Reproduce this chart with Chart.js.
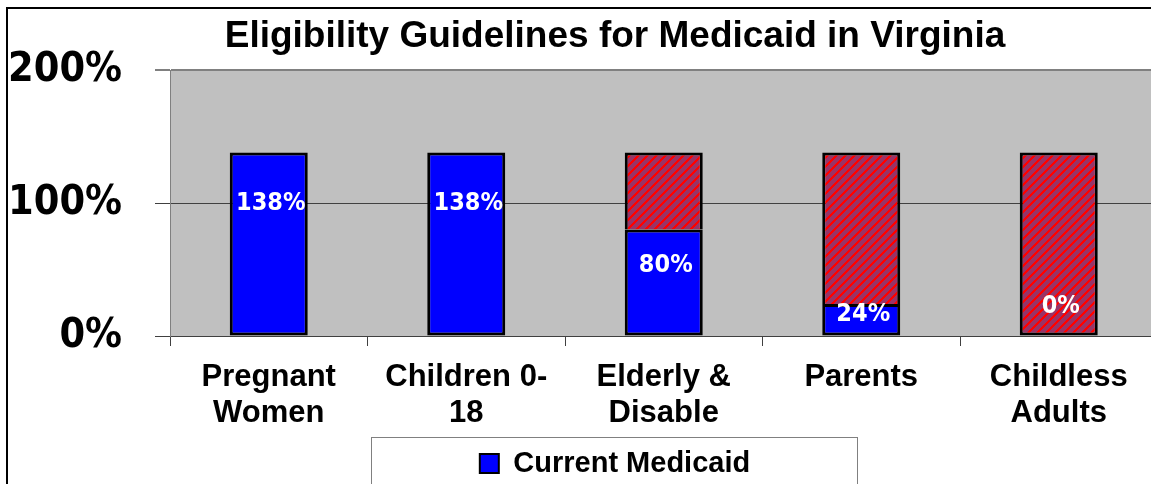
<!DOCTYPE html>
<html>
<head>
<meta charset="utf-8">
<script src="https://cdn.jsdelivr.net/npm/chart.js@4/dist/chart.umd.min.js"></script>
<style>
html, body { margin: 0; padding: 0; overflow: hidden; background: #fff; }
#wrap { position: relative; width: 1230px; height: 484px; }
</style>
</head>
<body>
<div id="wrap"><canvas id="myChart"></canvas></div>
<script>
// chart data
var categories = [['Pregnant', 'Women'], ['Children 0-', '18'], ['Elderly &', 'Disable'], ['Parents'], ['Childless', 'Adults']];
var currentMedicaid = [138, 138, 80, 24, 0];
var expansionGap = [0, 0, 58, 114, 138];
var yTicks = [0, 100, 200];
// where the white value labels sit (in axis units)
var labelAnchor = [100, 100, 53, 16, 22];

var condFont = '"DejaVu Sans Condensed", "DejaVu Sans", sans-serif';
var arialFont = '"Liberation Sans", Arial, sans-serif';

function makeHatch() {
  var c = document.createElement('canvas');
  c.width = 9; c.height = 9;
  var g = c.getContext('2d');
  g.fillStyle = '#993366';
  g.fillRect(0, 0, 9, 9);
  g.fillStyle = '#ff0000';
  for (var y = 0; y < 9; y++) {
    for (var x = 0; x < 9; x++) {
      if ((x + y) % 9 < 3) g.fillRect(x, y, 1, 1);
    }
  }
  return g.createPattern(c, 'repeat');
}

var bgPlugin = {
  id: 'bg',
  beforeDraw: function (chart) {
    var ctx = chart.ctx, a = chart.chartArea;
    ctx.save();
    ctx.fillStyle = '#fff';
    ctx.fillRect(0, 0, chart.width, chart.height);
    ctx.fillStyle = '#c0c0c0';
    ctx.fillRect(a.left, a.top, a.right - a.left, a.bottom - a.top);
    // outer frame
    ctx.strokeStyle = '#000';
    ctx.lineWidth = 2;
    ctx.beginPath();
    ctx.moveTo(7, chart.height + 5);
    ctx.lineTo(7, 8);
    ctx.lineTo(chart.width + 5, 8);
    ctx.stroke();
    ctx.restore();
  },
  afterDatasetsDraw: function (chart) {
    var ctx = chart.ctx, xs = chart.scales.x, ys = chart.scales.y;
    ctx.save();
    ctx.font = 'bold 25px ' + condFont;
    ctx.fillStyle = '#fff';
    ctx.textAlign = 'center';
    ctx.textBaseline = 'middle';
    currentMedicaid.forEach(function (v, i) {
      ctx.fillText(v + '%', xs.getPixelForValue(i) + 2, ys.getPixelForValue(labelAnchor[i]));
    });
    ctx.restore();
  },
  afterDraw: function (chart) {
    var ctx = chart.ctx;
    var cx = chart.width / 2;
    ctx.save();
    ctx.strokeStyle = '#808080';
    ctx.lineWidth = 1;
    ctx.strokeRect(cx - 243.5, 437.5, 486, 60);
    ctx.restore();
  }
};

var ctx = document.getElementById('myChart');
var hatch = makeHatch();

var myChart = new Chart(ctx, {
  type: 'bar',
  data: {
    labels: categories,
    datasets: [{
      label: 'Current Medicaid',
      data: currentMedicaid.map(function (v) { return v || null; }),
      backgroundColor: '#0000ff',
      borderColor: '#000',
      borderWidth: 3,
      borderSkipped: false,
      barPercentage: 0.395,
      categoryPercentage: 1
    }, {
      label: 'Expansion',
      data: expansionGap.map(function (v) { return v || null; }),
      backgroundColor: hatch,
      borderColor: '#000',
      borderWidth: function (c) {
        return { top: 3, left: 3, right: 3, bottom: currentMedicaid[c.dataIndex] > 0 ? 0 : 3 };
      },
      borderSkipped: false,
      barPercentage: 0.395,
      categoryPercentage: 1
    }]
  },
  options: {
    responsive: true,
    maintainAspectRatio: false,
    animation: false,
    layout: { padding: { top: 0, left: 0, right: 0, bottom: -4 } },
    plugins: {
      tooltip: { enabled: false },
      title: {
        display: true,
        text: 'Eligibility Guidelines for Medicaid in Virginia',
        color: '#000',
        font: { family: arialFont, size: 37, weight: 'bold', lineHeight: 1.2 },
        padding: { top: 15, bottom: 10.6 }
      },
      legend: {
        position: 'bottom',
        labels: {
          color: '#000',
          font: { family: arialFont, size: 29, weight: 'bold' },
          boxWidth: 19,
          boxHeight: 19,
          padding: 3,
          generateLabels: function (chart) {
            return Chart.defaults.plugins.legend.labels.generateLabels(chart)
              .filter(function (it) { return it.datasetIndex === 0; })
              .map(function (it) { it.lineWidth = 2; return it; });
          }
        }
      }
    },
    scales: {
      x: {
        stacked: true,
        grid: { display: true, drawOnChartArea: false, drawTicks: true, tickLength: 10, color: '#404040', offset: true },
        border: { color: '#404040', width: 1 },
        ticks: {
          color: '#000',
          font: { family: arialFont, size: 31, weight: 'bold', lineHeight: 1.18 },
          padding: 13,
          maxRotation: 0,
          autoSkip: false
        },
        afterFit: function (s) { s.height = 110; }
      },
      y: {
        stacked: true,
        min: 0,
        max: 200,
        afterBuildTicks: function (s) { s.ticks = yTicks.map(function (v) { return { value: v }; }); },
        grid: {
          color: function (c) { return c.tick && c.tick.value === 200 ? '#808080' : '#404040'; },
          lineWidth: function (c) { return c.tick && c.tick.value === 200 ? 2 : 1; },
          tickLength: 15
        },
        border: { color: '#808080', width: 1 },
        ticks: {
          color: '#000',
          font: { family: condFont, size: 41, weight: 'bold' },
          padding: 33,
          callback: function (v) { return v + '%'; }
        },
        afterFit: function (s) { s.width = 170; }
      },
      yRight: {
        position: 'right',
        display: true,
        grid: { display: false, drawTicks: false },
        border: { display: false },
        ticks: { display: false },
        afterFit: function (s) { s.width = 72.5; }
      }
    }
  },
  plugins: [bgPlugin]
});
</script>
</body>
</html>
